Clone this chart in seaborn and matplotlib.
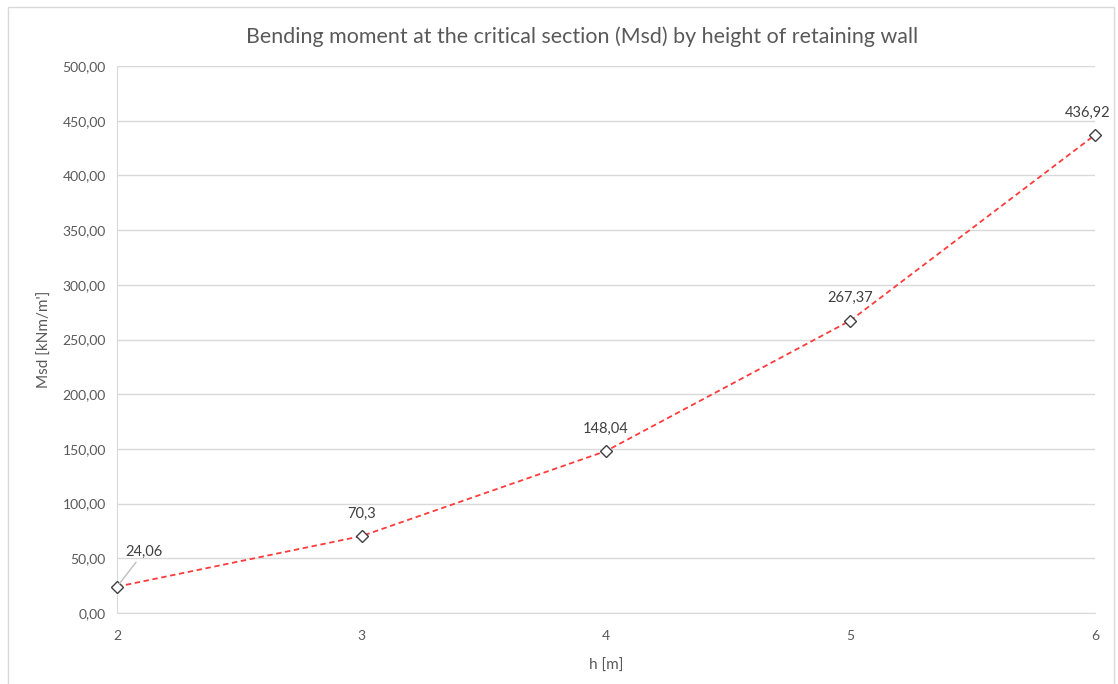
import matplotlib
matplotlib.use("Agg")
import matplotlib.pyplot as plt
import matplotlib.ticker as mticker
from matplotlib.patches import Rectangle
import seaborn as sns
import pandas as pd

# data
heights = [2, 3, 4, 5, 6]
msd = [24.06, 70.3, 148.04, 267.37, 436.92]
y_ticks = [0, 50, 100, 150, 200, 250, 300, 350, 400, 450, 500]

df = pd.DataFrame({"h": heights, "Msd": msd})

sns.set_style("white")
plt.rcParams["font.family"] = ["Lato", "DejaVu Sans"]

txt = "#595959"
grid = "#D9D9D9"

fig = plt.figure(figsize=(11.18, 6.84), dpi=100)
ax = fig.add_axes([0.1047, 0.1038, 0.8747, 0.7997])

sns.lineplot(data=df, x="h", y="Msd", ax=ax, color="#FF3B3B", linestyle=(0, (3, 2)),
             linewidth=1.3, marker="D", markersize=6, markerfacecolor="white",
             markeredgecolor="#404040", markeredgewidth=1.0, zorder=3, clip_on=False)

ax.set_xlim(2, 6)
ax.set_ylim(0, 500)
ax.set_xticks(heights)
ax.set_yticks(y_ticks)
ax.yaxis.set_major_formatter(mticker.FuncFormatter(lambda v, p: f"{v:.2f}".replace(".", ",")))
ax.grid(axis="y", color=grid, linewidth=1)
ax.tick_params(length=0, labelsize=10, colors=txt, pad=8)
ax.tick_params(axis="x", pad=12)

for s in ["top", "right"]:
    ax.spines[s].set_visible(False)
ax.spines["left"].set_color(grid)
ax.spines["bottom"].set_color(grid)

ax.set_xlabel("h [m]", fontsize=11, color=txt, labelpad=12)
ax.set_ylabel("Msd [kNm/m']", fontsize=11, color=txt, labelpad=8)
fig.suptitle("Bending moment at the critical section (Msd) by height of retaining wall",
             fontsize=15.4, color=txt, x=0.5206, y=0.962)

# data labels
for i, (x, y) in enumerate(zip(heights, msd)):
    lab = f"{y:g}".replace(".", ",")
    if i == 0:
        ax.annotate(lab, xy=(x, y), xytext=(6, 20), textcoords="offset points",
                    fontsize=10.5, color="#404040", ha="left", va="bottom",
                    arrowprops=dict(arrowstyle="-", color="#BFBFBF", lw=1, shrinkA=0, shrinkB=3))
    elif i == len(heights) - 1:
        ax.annotate(lab, xy=(x, y), xytext=(-5, 11), textcoords="offset points",
                    fontsize=10.5, color="#404040", ha="center", va="bottom",
                    annotation_clip=False)
    else:
        ax.annotate(lab, xy=(x, y), xytext=(0, 11), textcoords="offset points",
                    fontsize=10.5, color="#404040", ha="center", va="bottom")

fig.patches.append(Rectangle((8 / 1118, -0.01), 1106 / 1118, 1 - 7 / 684 + 0.01,
                             transform=fig.transFigure, fill=False,
                             edgecolor=grid, linewidth=1))

fig.savefig("out.png", dpi=100)
